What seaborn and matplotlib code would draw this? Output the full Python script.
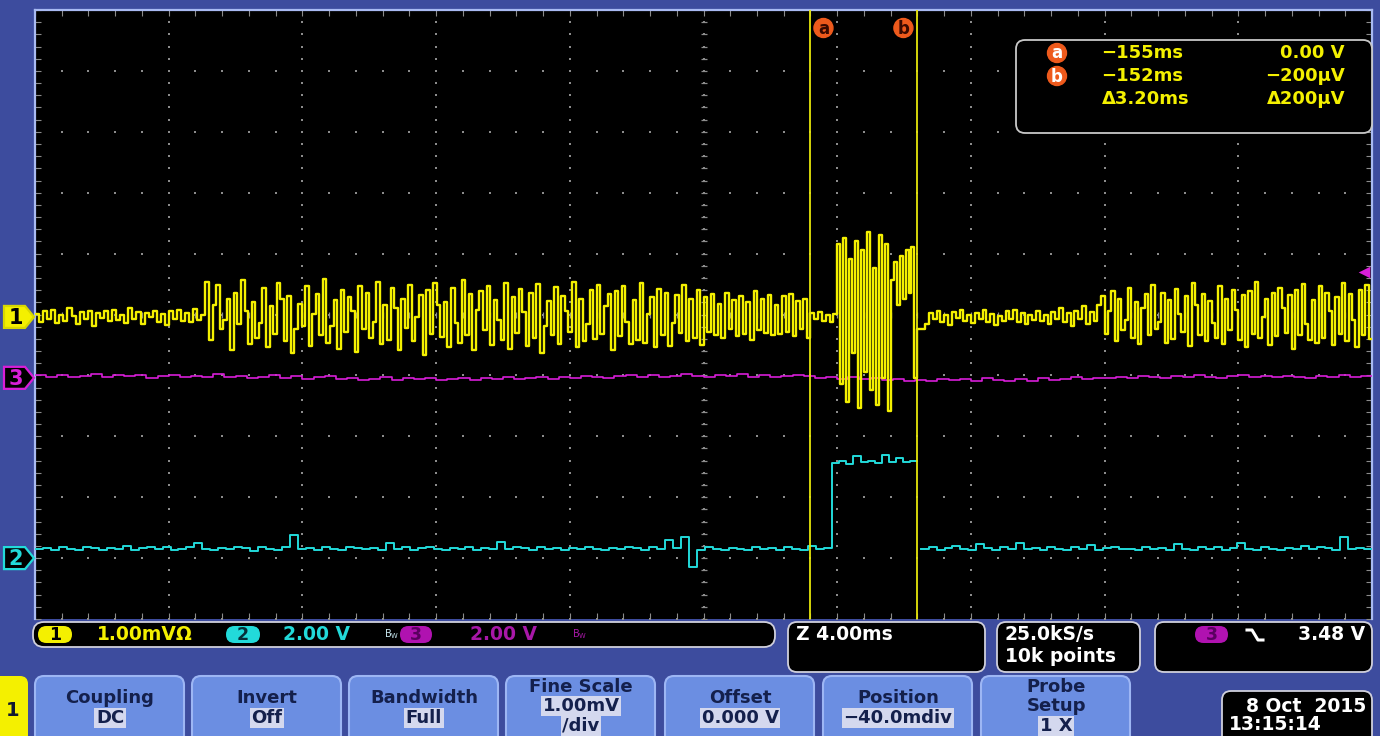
import numpy as np
import pandas as pd
import matplotlib
matplotlib.use("Agg")
import matplotlib.pyplot as plt
import matplotlib.transforms as mtransforms
from matplotlib.patches import FancyBboxPatch, Circle, Polygon
from matplotlib.lines import Line2D
import seaborn as sns

# ------------------------------------------------------------------ data
# horizontal: time in ms (zoom 4.00 ms/div, 10 divisions)
time_range_ms = [-178.2, -138.2]
cursor_a_ms = -155.0
cursor_b_ms = -151.8

# channel 1 (1.00 mV/div, position -40 mdiv); values in 1/100 mV
ch1_scale_mv = 1.00
ch1_position_div = -0.04
ch1_edges_ms = [-178.2, -173.1, -155.0, -154.2, -151.8, -146.3, -138.2]
ch1_quiet_a = [5, -8, 10, -3, 12, -10, 4, -6, 14, 2, -12, 8, -4, 10, -15, 6, -2, 9, -7, 12, -5,
               3, -10, 15, -4, 8, -12, 6, 0, 10, -8, 5, -14, 9, -3, 11, -6, 7, -9, 13, -5, 4]
ch1_busy_a = [58, -38, 20, 52, -20, -5, 30, -55, 40, -12, 60, 10, -45, 25, -35, -10, 48, -50, 18,
              -28, 55, 30, -40, 35, -60, -20, 22, -15, 50, -48, 5, 38, -30, 62, -42, -15, 28, -52,
              45, -25, 33, 10, -58, 50, -20, 40, -35, -8, 58, -45, 20, -38, 47, 15, -55, 30, -18,
              52, -40, 0, 36, -62, 44, -28, 55, 20, -33, 25, -50, 48, -10, -42, 60, -30, 38, -55,
              12, 42, -22, 50, -46, 28, -5, -38, 56, -52, 32, -26, 46, 8, -48, 40, -35, 54, -60,
              -15, 26, -30, 49, -44, 35, 10, -25, 58, -50, 30, -40, -12, 45, -36, 52, -28, 18, 38,
              -55, 43, -32, 50, -8, -45, 28, -38, 55, -42, 5, 33, -50, 46, -30, 40, -48, -10, 36,
              -26, 52, -40, 30, -35, 44, -46, 32, -25, 38, -30, 22, -35, 40, -20, 28, -32, 35, -28,
              25, -38, 42, -22, 30, -26, 36, -30, 20, -28, 34, -24, 38, -32, 26, -20, 30, -35]
ch1_pre_burst = [6, -4, 8, -6, 3, -8, 5]
ch1_burst = [120, -110, 130, -140, 95, -60, 125, -150, 110, -90, 140, -120, 80, -145, 135, -100,
             120, -155, 60, 90, 20, 100, 30, 110, 40, 115, -100]
ch1_quiet_b = [-20, -20, -12, 6, -4, 10, -8, 3, -14, 8, -2, 12, -6, 4, -10, 7, -3, 11, -9, 5, -13,
               2, -6, 9, -4, 12, -8, 6, -11, 3, -5, 10, -7, 4, -12, 8, -3, 14, -9, 6, -15, 10, -4,
               18, -12, 8, -6, 20]
ch1_busy_b = [35, -28, 10, 42, -40, 30, -22, -5, 48, -35, 25, -45, 15, 38, -30, 52, -20, -8, 40,
              -42, 28, -36, 46, 5, -25, 34, -48, 55, 20, -30, 38, -40, 26, -10, -34, 50, -44, 30,
              -22, 45, 12, -38, 36, -50, 42, -28, 58, -35, 0, 30, -46, 40, -32, 48, 15, -26, 36,
              -52, 44, -30, 54, -12, -38, 28, -42, 50, -34, 40, 10, -46, 32, -28, 56, -40, 38,
              -5, -50, 45, -30, 52, -36]

# channel 3 (2.00 V/div); values in 1/100 V
ch3_scale_v = 2.00
ch3_position_div = -1.04
ch3_values = [8, 4, 10, 2, 6, 12, 3, 8, 5, 10, 0, 6, 9, 2, 7, 4, 11, 3, 6, -2, 4, 8, 0, 5, -3, 2, 6,
              -4, 1, -6, -3, 2, -8, -2, -5, 0, -7, -3, 1, -6, -2, -4, 3, -5, 0, 2, -3, 4, 1, 6, 2,
              -1, 5, 8, 3, 10, 4, 7, 12, 6, 2, 9, 5, 11, 4, 8, 3, 6, 10, 5, 0, 4, -3, 2, -5, -2,
              -8, -4, -10, -6, -12, -3, -8, -5, -10, 0, -6, -9, -4, -11, -2, -7, -3, 2, -4, 1, -2,
              4, 0, 6, 2, -1, 5, 3, 8, 4, 1, 6, 9, 3, 5, 2, 7, 4, 0, 6, 3, 8, 2, 5]
trigger_level_v = 3.48

# channel 2 (2.00 V/div); values in 1/100 V
ch2_scale_v = 2.00
ch2_position_div = -4.0
ch2_edges_a_ms = [-178.2, -154.35, -151.8]
ch2_edges_b_ms = [-151.7, -138.2]
ch2_low_a = [30, 34, 28, 36, 30, 26, 38, 32, 28, 34, 30, 40, 27, 33, 36, 29, 35, 25, 31, 37, 50, 30,
             26, 34, 29, 38, 32, 24, 35, 30, 28, 36, 75, 30, 33, 27, 36, 31, 26, 38, 34, 29, 32, 27,
             48, 30, 35, 28, 33, 38, 29, 26, 34, 31, 36, 27, 33, 30, 52, 29, 35, 32, 26, 37, 30, 34,
             28, 33, 31, 36, 29, 25, 34, 30, 38, 32, 27, 35, 30, 60, 33, 70, -30, 28, 35, 30, 27, 34,
             31, 26, 36, 30, 33, 28, 35, 31, 27, 40, 30, 32]
ch2_high = [312, 318, 310, 335, 315, 320, 312, 340, 316, 330, 314, 318]
ch2_low_b = [30, 36, 28, 34, 40, 30, 26, 45, 32, 28, 36, 30, 50, 29, 34, 27, 38, 31, 26, 35, 30, 42,
             28, 33, 37, 29, 31, 26, 36, 30, 34, 28, 45, 31, 27, 35, 30, 38, 26, 33, 48, 30, 28, 36,
             31, 27, 34, 30, 40, 29, 35, 32, 28, 70, 30, 33, 29]

readout_times = ["\u2212155ms", "\u2212152ms", "\u03943.20ms"]
readout_volts = ["0.00 V", "\u2212200\u03bcV", "\u0394200\u03bcV"]
button_labels = [["Coupling"], ["Invert"], ["Bandwidth"], ["Fine Scale"], ["Offset"],
                 ["Position"], ["Probe", "Setup"]]
button_values = [["DC"], ["Off"], ["Full"], ["1.00mV", "/div"], ["0.000 V"], ["\u221240.0mdiv"], ["1 X"]]

# ------------------------------------------------------------------ helpers
def build(edges, segments):
    t, v = [], []
    for t0, t1, seg in zip(edges[:-1], edges[1:], segments):
        t.extend(np.linspace(t0, t1, len(seg), endpoint=False))
        v.extend(seg)
    t.append(edges[-1])
    v.append(segments[-1][-1])
    return np.array(t), np.array(v, dtype=float)

t1, v1 = build(ch1_edges_ms, [ch1_quiet_a, ch1_busy_a, ch1_pre_burst, ch1_burst, ch1_quiet_b, ch1_busy_b])
df1 = pd.DataFrame({"t": t1, "y": v1 / 100.0 / ch1_scale_mv + ch1_position_div, "seg": 0})

t3, v3 = build(time_range_ms, [ch3_values])
df3 = pd.DataFrame({"t": t3, "y": v3 / 100.0 / ch3_scale_v + ch3_position_div, "seg": 0})

t2a, v2a = build(ch2_edges_a_ms, [ch2_low_a, ch2_high])
t2b, v2b = build(ch2_edges_b_ms, [ch2_low_b])
df2 = pd.DataFrame({"t": np.concatenate([t2a, t2b]),
                    "y": np.concatenate([v2a, v2b]) / 100.0 / ch2_scale_v + ch2_position_div,
                    "seg": [0] * len(t2a) + [1] * len(t2b)})

# ------------------------------------------------------------------ figure
W, H = 1380, 736
BG = "#3d4c9e"
YEL = "#f4f000"
CYA = "#22dada"
MAG = "#d81ed8"
ORG = "#ee5a1c"
FONT = "DejaVu Sans"
plt.rcParams["font.family"] = FONT

fig = plt.figure(figsize=(W / 100, H / 100), dpi=100, facecolor=BG)

ui = fig.add_axes([0, 0, 1, 1], zorder=0)
ui.set_xlim(0, W); ui.set_ylim(H, 0); ui.axis("off")

L, R, T, B = 35, 1372, 10, 619
ax = fig.add_axes([L / W, 1 - B / H, (R - L) / W, (B - T) / H], zorder=1)
ax.set_facecolor("black")
ax.set_xlim(*time_range_ms)
ax.set_ylim(-5, 5)

top = fig.add_axes([0, 0, 1, 1], zorder=2)
top.set_xlim(0, W); top.set_ylim(H, 0); top.axis("off")
top.patch.set_alpha(0)

def t2px(t):
    return L + (t - time_range_ms[0]) / (time_range_ms[1] - time_range_ms[0]) * (R - L)

def div2px(d):
    return (T + B) / 2 - d * (B - T) / 10

# graticule
major_x = np.linspace(*time_range_ms, 11)
minor_x = np.linspace(*time_range_ms, 51)
major_y = np.arange(-5, 6)
minor_y = np.linspace(-5, 5, 51)
gx = np.concatenate([np.repeat(major_x, len(minor_y)), np.tile(minor_x, len(major_y))])
gy = np.concatenate([np.tile(minor_y, len(major_x)), np.repeat(major_y, len(minor_x))])
ax.scatter(gx, gy, s=2.2, c="#8c8c8c", marker="s", linewidths=0, zorder=1)
cx = np.mean(time_range_ms)
ax.scatter(np.full(len(minor_y), cx), minor_y, marker="_", s=18, c="#8c8c8c", linewidths=0.9, zorder=1)
ax.scatter(minor_x, np.zeros(len(minor_x)), marker="|", s=14, c="#8c8c8c", linewidths=0.9, zorder=1)
ax.set_xticks(minor_x); ax.set_yticks(minor_y)
ax.tick_params(direction="in", length=4, width=0.8, color="#8c8c8c", top=True, right=True,
               labelbottom=False, labelleft=False)
for s in ["left", "top", "right"]:
    ax.spines[s].set_color("#a9baf2"); ax.spines[s].set_linewidth(1.6)
ax.spines["bottom"].set_visible(False)

# traces
sns.lineplot(data=df3, x="t", y="y", units="seg", estimator=None, sort=False, color=MAG,
             lw=1.2, drawstyle="steps-post", legend=False, ax=ax, zorder=3)
sns.lineplot(data=df2, x="t", y="y", units="seg", estimator=None, sort=False, color=CYA,
             lw=1.4, drawstyle="steps-post", legend=False, ax=ax, zorder=3)
sns.lineplot(data=df1, x="t", y="y", units="seg", estimator=None, sort=False, color=YEL,
             lw=1.7, drawstyle="steps-post", legend=False, ax=ax, zorder=4)
ax.set_xlabel(""); ax.set_ylabel("")

# cursors
for c in (cursor_a_ms, cursor_b_ms):
    ax.axvline(c, color="#e6e60a", lw=1.3, zorder=5)

# trigger level marker
trig_div = ch3_position_div + trigger_level_v / ch3_scale_v
ax.scatter([0.994], [trig_div], marker="<", s=70, c=MAG, linewidths=0,
           transform=mtransforms.blended_transform_factory(ax.transAxes, ax.transData), zorder=6)

# cursor labels on top of screen
for c, lab, dx in ((cursor_a_ms, "a", 13), (cursor_b_ms, "b", -14)):
    x = t2px(c) + dx
    top.add_patch(Circle((x, 28), 9.5, color=ORG, zorder=5))
    top.text(x, 28.5, lab, color="#3a0a00", fontsize=12, fontweight="bold", ha="center", va="center", zorder=6)

# ground markers
def ground_marker(y, label, face, edge, tcol):
    h = 11
    top.add_patch(Polygon([(4, y - h), (25, y - h), (34, y), (25, y + h), (4, y + h)], closed=True,
                          facecolor=face, edgecolor=edge, lw=1.6, zorder=5))
    top.text(16, y + 1, label, color=tcol, fontsize=15, fontweight="bold", ha="center", va="center", zorder=6)

ground_marker(div2px(ch1_position_div), "1", YEL, "#d8d800", "black")
ground_marker(div2px(ch3_position_div), "3", "black", MAG, MAG)
ground_marker(div2px(ch2_position_div), "2", "black", CYA, CYA)

# cursor readout box
top.add_patch(FancyBboxPatch((1016, 40), 356, 93, boxstyle="round,pad=0,rounding_size=9",
                             facecolor="black", edgecolor="#c8c8c8", lw=1.3, zorder=4))
rows_y = [53, 76, 99]
for i, yy in enumerate(rows_y):
    if i < 2:
        top.add_patch(Circle((1057, yy), 9.5, color=ORG, zorder=5))
        top.text(1057, yy + 0.5, "ab"[i], color="white", fontsize=12, fontweight="bold",
                 ha="center", va="center", zorder=6)
    top.text(1183 if i < 2 else 1190, yy, readout_times[i], color=YEL, fontsize=13, fontweight="bold",
             ha="right", va="center", zorder=6)
    top.text(1345, yy, readout_volts[i], color=YEL, fontsize=13, fontweight="bold", ha="right",
             va="center", zorder=6)

# status bar
def rbox(x, y, w, h, face="black", edge="#d0d0dc", r=9, lw=1.3, z=2):
    ui.add_patch(FancyBboxPatch((x, y), w, h, boxstyle=f"round,pad=0,rounding_size={r}",
                                facecolor=face, edgecolor=edge, lw=lw, zorder=z))

def pill(x, y, w, h, face, label, tcol):
    rbox(x, y, w, h, face=face, edge="none", r=h / 2, z=3)
    ui.text(x + w / 2, y + h / 2 + 0.5, label, color=tcol, fontsize=12.5, fontweight="bold",
            ha="center", va="center", zorder=4)

ST = dict(fontsize=13.5, fontweight="bold", va="center", zorder=4)
rbox(33, 622, 742, 25, r=11)
pill(38, 626, 34, 17, YEL, "1", "black")
ui.text(97, 634.5, "1.00mV\u03a9", color=YEL, **ST)
pill(226, 626, 34, 17, CYA, "2", "#06303a")
ui.text(283, 634.5, "2.00 V", color=CYA, **ST)
ui.text(384, 634, r"$\mathregular{B_W}$", color="#c8e8f0", fontsize=7, va="center", zorder=4)
pill(400, 626, 32, 17, "#b012b0", "3", "#5a0060")
ui.text(470, 634.5, "2.00 V", color="#a818a8", **ST)
ui.text(572, 634, r"$\mathregular{B_W}$", color="#a818a8", fontsize=7, va="center", zorder=4)

rbox(788, 622, 197, 50)
ui.text(796, 634.5, "Z 4.00ms", color="white", **ST)
rbox(997, 622, 143, 50)
ui.text(1005, 634.5, "25.0kS/s", color="white", **ST)
ui.text(1005, 656, "10k points", color="white", **ST)
rbox(1155, 622, 217, 50)
pill(1195, 626, 33, 17, "#b012b0", "3", "#5a0060")
ui.add_line(Line2D([1247, 1252, 1258, 1263], [630, 630, 640, 640], color="white", lw=2.2, zorder=4))
ui.text(1365, 634.5, "3.48 V", color="white", ha="right", **ST)

# menu buttons
ui.add_patch(FancyBboxPatch((-10, 676), 38, 80, boxstyle="round,pad=0,rounding_size=8",
                            facecolor=YEL, edgecolor="none", zorder=2))
ui.text(13, 711, "1", color="#101830", fontsize=14, fontweight="bold", ha="center", va="center", zorder=3)
btn_x = [35, 192, 349, 506, 665, 823, 981]
BTN = "#6b8ee2"
NAVY = "#14204c"
HL = "#d4d8ee"
for x, labs, vals in zip(btn_x, button_labels, button_values):
    ui.add_patch(FancyBboxPatch((x, 676), 149, 80, boxstyle="round,pad=0,rounding_size=9",
                                facecolor=BTN, edgecolor="#9db6f4", lw=1.5, zorder=2))
    lines = [(s, False) for s in labs] + [(s, True) for s in vals]
    if len(lines) == 2:
        ys = [698, 718]
    else:
        ys = [687, 706, 726]
    for (s, hl), yy in zip(lines, ys):
        kw = dict(color=NAVY, fontsize=13, fontweight="bold", ha="center", va="center", zorder=4)
        if hl:
            kw["bbox"] = dict(boxstyle="square,pad=0.08", facecolor=HL, edgecolor="none")
        ui.text(x + 75, yy, s, **kw)

rbox(1222, 691, 150, 60, r=9)
ui.text(1366, 706, "8 Oct  2015", color="white", ha="right", **ST)
ui.text(1229, 725, "13:15:14", color="white", ha="left", **ST)

fig.savefig("out.png", dpi=100, facecolor=BG)
